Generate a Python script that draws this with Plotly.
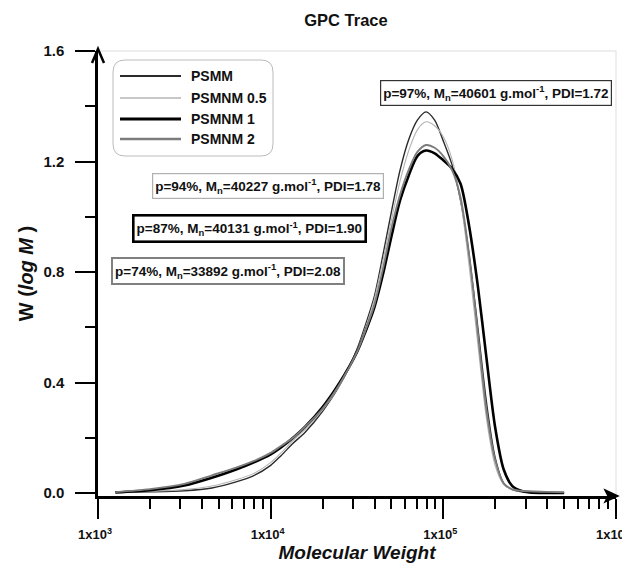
import plotly.graph_objects as go

# ---------------- data ----------------
mol_weight = [1260, 2000, 3160, 4570, 6310, 7940, 10000, 11480, 13490, 15850,
              19950, 25120, 31620, 35480, 39810, 44670, 50120, 56230, 63100, 70790,
              79430, 89130, 100000, 112200, 125900, 141300, 158500, 177800, 199500,
              223900, 251200, 281800, 316200, 398100, 501200]

w_psmm = [0.002, 0.004, 0.008, 0.018, 0.040, 0.062, 0.100, 0.135, 0.180, 0.220,
          0.295, 0.390, 0.520, 0.610, 0.710, 0.860, 1.020, 1.170, 1.280, 1.350,
          1.380, 1.350, 1.275, 1.190, 1.060, 0.860, 0.600, 0.330, 0.130,
          0.035, 0.012, 0.005, 0.002, 0.001, 0.001]

w_psmnm_05 = [0.002, 0.006, 0.012, 0.025, 0.048, 0.070, 0.110, 0.145, 0.190, 0.230,
              0.300, 0.390, 0.515, 0.600, 0.700, 0.840, 0.990, 1.130, 1.240, 1.315,
              1.344, 1.330, 1.290, 1.210, 1.060, 0.820, 0.540, 0.270, 0.100,
              0.030, 0.012, 0.007, 0.005, 0.004, 0.003]

w_psmnm_1 = [0.002, 0.010, 0.027, 0.055, 0.085, 0.110, 0.140, 0.165, 0.200, 0.240,
             0.310, 0.400, 0.510, 0.585, 0.670, 0.790, 0.930, 1.060, 1.150, 1.220,
             1.240, 1.230, 1.205, 1.175, 1.120, 0.965, 0.750, 0.490, 0.240,
             0.085, 0.025, 0.008, 0.002, 0.000, 0.000]

w_psmnm_2 = [0.003, 0.014, 0.033, 0.064, 0.092, 0.115, 0.145, 0.170, 0.200, 0.240,
             0.305, 0.395, 0.510, 0.590, 0.680, 0.810, 0.960, 1.080, 1.170, 1.235,
             1.260, 1.250, 1.220, 1.170, 1.070, 0.860, 0.580, 0.300, 0.120,
             0.035, 0.013, 0.008, 0.006, 0.004, 0.002]

series_names = ["PSMM", "PSMNM 0.5", "PSMNM 1", "PSMNM 2"]
series_values = [w_psmm, w_psmnm_05, w_psmnm_1, w_psmnm_2]

annotation_texts = [
    "p=97%, M<sub>n</sub>=40601 g.mol<sup>-1</sup>, PDI=1.72",
    "p=94%, M<sub>n</sub>=40227 g.mol<sup>-1</sup>, PDI=1.78",
    "p=87%, M<sub>n</sub>=40131 g.mol<sup>-1</sup>, PDI=1.90",
    "p=74%, M<sub>n</sub>=33892 g.mol<sup>-1</sup>, PDI=2.08",
]

x_tick_vals = [1e3, 1e4, 1e5, 1e6]
x_tick_text = ["1x10<sup>3</sup>", "1x10<sup>4</sup>", "1x10<sup>5</sup>", "1x10<sup>6</sup>"]
y_tick_vals = [0.0, 0.4, 0.8, 1.2, 1.6]
y_tick_text = ["0.0", "0.4", "0.8", "1.2", "1.6"]

# ---------------- styling ----------------
W, H = 630, 569
L, R, T, B = 90, 608, 43, 488          # plot area in pixels
FONT = "Liberation Sans, Arial, sans-serif"

line_styles = [
    dict(color="#2a2a2a", width=1.4),
    dict(color="#b4b4b4", width=1.1),
    dict(color="#000000", width=2.6),
    dict(color="#7c7c7c", width=1.9),
]
box_styles = [
    dict(bordercolor="#333333", borderwidth=1.2, size=13.5, cx=488, cy=84.5),
    dict(bordercolor="#b0b0b0", borderwidth=1.2, size=13.5, cx=260, cy=178),
    dict(bordercolor="#000000", borderwidth=2.6, size=13.5, cx=241, cy=220.5),
    dict(bordercolor="#808080", borderwidth=2.0, size=13.5, cx=219.5, cy=263),
]


def px(x):
    return (x - L) / (R - L)


def py(y):
    return (B - y) / (B - T)


fig = go.Figure()
for name, vals, st in zip(series_names, series_values, line_styles):
    fig.add_trace(go.Scatter(
        x=mol_weight, y=vals, mode="lines", name=name,
        line=dict(color=st["color"], width=st["width"], shape="spline", smoothing=0.8),
        showlegend=False,
    ))

shapes = []
annotations = []

# faint frame on top and right
shapes.append(dict(type="line", xref="paper", yref="paper", x0=0, x1=1, y0=1, y1=1,
                   line=dict(color="#dddddd", width=1)))
shapes.append(dict(type="line", xref="paper", yref="paper", x0=1, x1=1, y0=0, y1=1,
                   line=dict(color="#dddddd", width=1)))

# axis arrow heads
shapes.append(dict(type="path", xref="paper", yref="paper",
                   path=f"M {px(84)},{py(55)} L {px(90)},{py(41)} L {px(96)},{py(55)}",
                   line=dict(color="black", width=2.5)))
shapes.append(dict(type="path", xref="paper", yref="paper",
                   path=f"M {px(597)},{py(482)} L {px(610)},{py(488)} L {px(597)},{py(494)} L {px(600)},{py(488)} Z",
                   line=dict(color="black", width=1.5), fillcolor="black"))

# rounded legend box
x0, x1, y0, y1, r = 105, 265, 52, 148, 12
pts = (f"M {px(x0 + r)},{py(y0)} L {px(x1 - r)},{py(y0)} Q {px(x1)},{py(y0)} {px(x1)},{py(y0 + r)} "
       f"L {px(x1)},{py(y1 - r)} Q {px(x1)},{py(y1)} {px(x1 - r)},{py(y1)} "
       f"L {px(x0 + r)},{py(y1)} Q {px(x0)},{py(y1)} {px(x0)},{py(y1 - r)} "
       f"L {px(x0)},{py(y0 + r)} Q {px(x0)},{py(y0)} {px(x0 + r)},{py(y0)} Z")
shapes.append(dict(type="path", xref="paper", yref="paper", path=pts,
                   line=dict(color="#bbbbbb", width=1), fillcolor="white", layer="above"))

legend_rows = [68, 90, 111, 131]
for name, st, yy in zip(series_names, line_styles, legend_rows):
    shapes.append(dict(type="line", xref="paper", yref="paper",
                       x0=px(112), x1=px(173), y0=py(yy), y1=py(yy),
                       line=dict(color=st["color"], width=st["width"] + 0.4), layer="above"))
    annotations.append(dict(xref="paper", yref="paper", x=px(181), y=py(yy),
                            xanchor="left", yanchor="middle", showarrow=False,
                            text=f"<b>{name}</b>",
                            font=dict(family=FONT, size=14, color="#111111")))

for txt, bs in zip(annotation_texts, box_styles):
    annotations.append(dict(xref="paper", yref="paper", x=px(bs["cx"]), y=py(bs["cy"]),
                            xanchor="center", yanchor="middle", showarrow=False,
                            text=f"<b>{txt}</b>",
                            font=dict(family=FONT, size=bs["size"], color="#111111"),
                            bgcolor="white", bordercolor=bs["bordercolor"],
                            borderwidth=bs["borderwidth"], borderpad=2))

fig.update_layout(
    width=W, height=H,
    margin=dict(l=L, r=W - R, t=T, b=H - B, autoexpand=False),
    paper_bgcolor="white", plot_bgcolor="white",
    font=dict(family=FONT, color="#111111"),
    title=dict(text="<b>GPC Trace</b>", xref="container", yref="container",
               x=338 / W, y=1 - 12 / H, xanchor="center", yanchor="middle",
               font=dict(family=FONT, size=16.5, color="#111111")),
    shapes=shapes, annotations=annotations,
    showlegend=False,
)

fig.update_xaxes(
    type="log", range=[3, 6.0005],
    showline=True, linecolor="black", linewidth=2.5,
    showgrid=False, zeroline=False,
    tickmode="array", tickvals=x_tick_vals, ticktext=x_tick_text,
    ticks="outside", ticklen=20, tickwidth=2.2, tickcolor="black",
    ticklabelstandoff=5, ticklabelshift=-3, ticklabeloverflow="allow",
    tickfont=dict(family=FONT, size=13, color="#111111", weight="bold"),
    minor=dict(tickvals=[m * 10 ** e for e in (3, 4, 5) for m in range(2, 10)],
               ticks="outside", ticklen=10, tickwidth=2.2, tickcolor="black"),
    title=dict(text="<b><i>Molecular Weight</i></b>", standoff=3,
               font=dict(family=FONT, size=19, color="#111111")),
)

fig.update_yaxes(
    range=[-0.011, 1.6005],
    showline=True, linecolor="black", linewidth=2.5,
    showgrid=False, zeroline=False,
    tickmode="array", tickvals=y_tick_vals, ticktext=y_tick_text,
    ticks="outside", ticklen=20, tickwidth=2.2, tickcolor="black",
    ticklabelstandoff=8,
    tickfont=dict(family=FONT, size=15, color="#111111", weight="bold"),
    minor=dict(tickvals=[0.2, 0.6, 1.0, 1.4],
               ticks="outside", ticklen=10, tickwidth=2.2, tickcolor="black"),
    title=dict(text="<b>W (<i>log M</i> )</b>", standoff=5,
               font=dict(family=FONT, size=20, color="#111111")),
)

fig.write_html("out.html")
